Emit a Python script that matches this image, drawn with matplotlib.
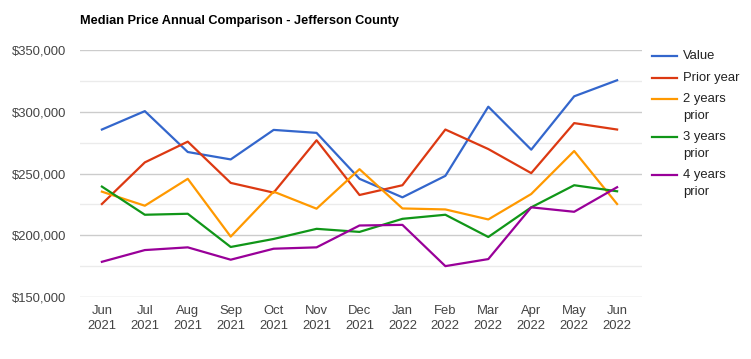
import matplotlib.pyplot as plt
from matplotlib.lines import Line2D
from matplotlib.ticker import FuncFormatter, MultipleLocator

plt.rcParams['font.family'] = ['Liberation Sans', 'DejaVu Sans']

months = ["Jun\n2021", "Jul\n2021", "Aug\n2021", "Sep\n2021", "Oct\n2021", "Nov\n2021", "Dec\n2021",
          "Jan\n2022", "Feb\n2022", "Mar\n2022", "Apr\n2022", "May\n2022", "Jun\n2022"]

value = [285600, 300500, 267400, 261400, 285300, 282900, 245700,
         230700, 248100, 304100, 269300, 312500, 325500]
prior_year = [225300, 259000, 275800, 242400, 234500, 276900, 232600,
              240500, 285600, 269800, 250300, 290800, 285600]
two_years = [235300, 223900, 245700, 198900, 235300, 221500, 253500,
             221700, 220900, 212800, 233400, 268200, 225300]
three_years = [239400, 216600, 217400, 190500, 197000, 205200, 202700,
               213300, 216600, 198600, 222600, 240500, 235600]
four_years = [178500, 188000, 190200, 180200, 189100, 190200, 207900,
              208400, 175000, 180700, 222600, 219000, 238900]

series = [
    ("Value", value, "#3366cc"),
    ("Prior year", prior_year, "#dc3912"),
    ("2 years\nprior", two_years, "#ff9900"),
    ("3 years\nprior", three_years, "#109618"),
    ("4 years\nprior", four_years, "#990099"),
]

W, H = 751, 359
fig = plt.figure(figsize=(W / 100, H / 100), dpi=100)
ax = fig.add_axes([80 / W, 1 - 297 / H, (642 - 80) / W, (297 - 50) / H])

x = list(range(len(months)))
for label, vals, color in series:
    ax.plot(x, vals, color=color, linewidth=1.6, solid_joinstyle='round', zorder=3)

ax.set_xlim(-0.51, 12.58)
ax.set_ylim(150000, 350000)
ax.yaxis.set_major_locator(MultipleLocator(50000))
ax.yaxis.set_minor_locator(MultipleLocator(25000))
ax.yaxis.set_major_formatter(FuncFormatter(lambda v, p: f"${v:,.0f}"))
ax.set_xticks(x)
ax.set_xticklabels(months, linespacing=1.3)

ax.grid(axis='y', which='major', color='#cccccc', linewidth=1)
ax.grid(axis='y', which='minor', color='#ebebeb', linewidth=1)
ax.set_axisbelow(True)
for s in ax.spines.values():
    s.set_visible(False)
ax.tick_params(axis='both', which='both', length=0, labelsize=9.4, labelcolor='#444444')
ax.tick_params(axis='y', pad=10)
ax.tick_params(axis='x', pad=6)

fig.text(80 / W, 1 - 21 / H, "Median Price Annual Comparison - Jefferson County",
         fontsize=9.2, fontweight='bold', color='#000000', va='center', ha='left')

# legend on the right, handle aligned with first text line
y = 56
for label, vals, color in series:
    fy = 1 - y / H
    fig.add_artist(Line2D([652 / W, 677 / W], [fy, fy], color=color, linewidth=1.6))
    fig.text(683 / W, fy, label.split("\n")[0], fontsize=9.4, color='#222222', va='center')
    lines = label.split("\n")
    if len(lines) > 1:
        fig.text(683 / W, 1 - (y + 17) / H, lines[1], fontsize=9.4, color='#222222', va='center')
        y += 38
    else:
        y += 21.5

fig.savefig("out.png", dpi=100, facecolor='white')
